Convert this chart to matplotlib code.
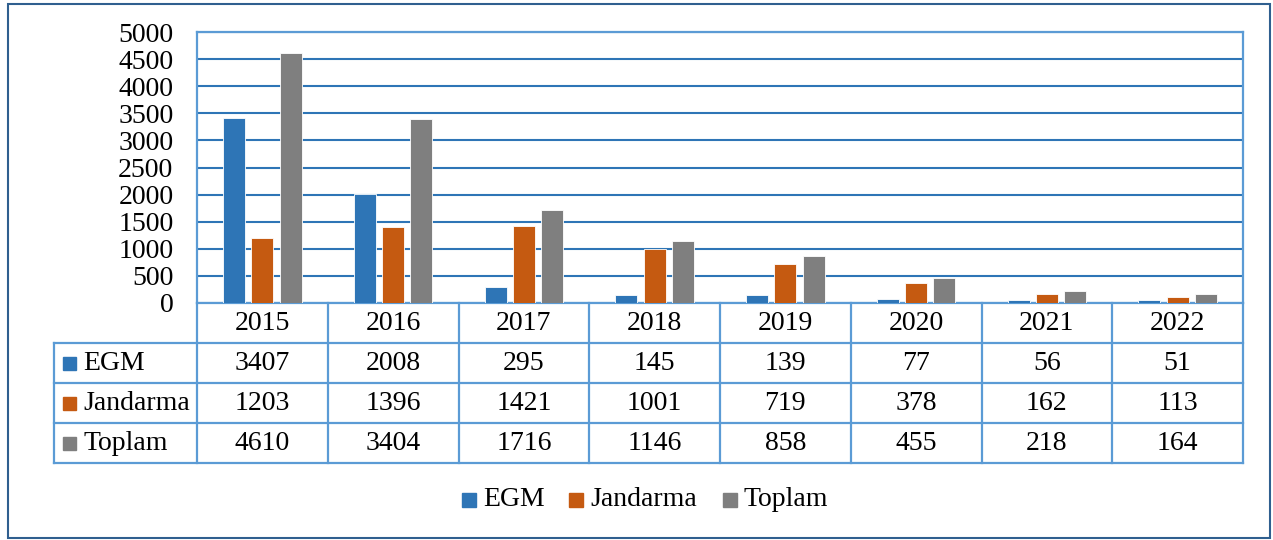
import matplotlib
matplotlib.use("Agg")
import matplotlib.pyplot as plt
from matplotlib.lines import Line2D
from matplotlib.patches import Rectangle
import numpy as np

years = ["2015", "2016", "2017", "2018", "2019", "2020", "2021", "2022"]
egm = [3407, 2008, 295, 145, 139, 77, 56, 51]
jandarma = [1203, 1396, 1421, 1001, 719, 378, 162, 113]
toplam = [4610, 3404, 1716, 1146, 858, 455, 218, 164]
series_names = ["EGM", "Jandarma", "Toplam"]
colors = ["#2E75B6", "#C55A11", "#7F7F7F"]
yticks = list(range(0, 5001, 500))

W, H = 1273, 540
plt.rcParams['font.family'] = ['Liberation Serif', 'DejaVu Serif']
FS = 20

fig = plt.figure(figsize=(W / 100, H / 100), dpi=100)

def fx(x):
    return x / W

def fy(y):
    return 1 - y / H

# plot area in pixel coords
L, R, T, B = 197, 1243, 32, 303
ax = fig.add_axes([fx(L), fy(B), (R - L) / W, (B - T) / H])
n = len(years)
x = np.arange(n)
bw = 0.168
off = 0.216
data = [egm, jandarma, toplam]
for i, (vals, c) in enumerate(zip(data, colors)):
    ax.bar(x + (i - 1) * off, vals, width=bw, color=c, edgecolor="white", linewidth=0.6, zorder=3)
ax.set_xlim(-0.5, n - 0.5)
ax.set_ylim(0, 5000)
ax.set_yticks(yticks)
ax.set_yticklabels([str(v) for v in yticks], fontsize=FS)
ax.tick_params(axis='y', length=0, pad=17)
ax.set_xticks([])
ax.grid(axis='y', color="#2E75B6", linewidth=1.5, zorder=1)
for s in ax.spines.values():
    s.set_color("#5B9BD5")
    s.set_linewidth(1.6)

# table
tcol = "#5B9BD5"
lw = 1.6
colw = (R - L) / n
rows_y = [303, 343, 383, 423, 463]
labL = 54

def hline(y, x0, x1):
    fig.add_artist(Line2D([fx(x0), fx(x1)], [fy(y), fy(y)], color=tcol, lw=lw))

def vline(xp, y0, y1):
    fig.add_artist(Line2D([fx(xp), fx(xp)], [fy(y0), fy(y1)], color=tcol, lw=lw))

for y in rows_y[1:]:
    hline(y, labL, R)
for i in range(n + 1):
    vline(L + i * colw, 303, 463)
vline(labL, 343, 463)

for i, yr in enumerate(years):
    fig.text(fx(L + (i + 0.5) * colw), fy(323), yr, ha='center', va='center', fontsize=FS)

for r, (name, vals, c) in enumerate(zip(series_names, data, colors)):
    yc = (rows_y[r + 1] + rows_y[r + 2]) / 2
    fig.add_artist(Rectangle((fx(63), fy(yc + 7)), 13 / W, 13 / H, color=c, transform=fig.transFigure))
    fig.text(fx(83), fy(yc), name, ha='left', va='center', fontsize=FS)
    for i, v in enumerate(vals):
        fig.text(fx(L + (i + 0.5) * colw), fy(yc), str(v), ha='center', va='center', fontsize=FS)

# bottom legend
leg_x = [462, 569, 723]
for name, c, lx in zip(series_names, colors, leg_x):
    fig.add_artist(Rectangle((fx(lx), fy(507)), 14 / W, 14 / H, color=c, transform=fig.transFigure))
    fig.text(fx(lx + 21), fy(500), name, ha='left', va='center', fontsize=FS)

# outer border
fig.add_artist(Rectangle((fx(8), fy(538)), (1270 - 8) / W, (538 - 4) / H, fill=False,
                         edgecolor="#2F5F8F", lw=1.5, transform=fig.transFigure))

fig.savefig("out.png", dpi=100)
